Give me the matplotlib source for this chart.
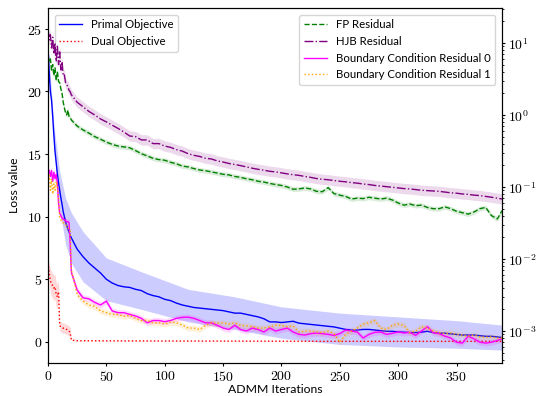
import numpy as np
import matplotlib
matplotlib.use("Agg")
import matplotlib.pyplot as plt
from matplotlib.ticker import FuncFormatter, MultipleLocator, LogLocator

plt.rcParams['mathtext.fontset'] = 'cm'
plt.rcParams['font.family'] = ['Lato', 'DejaVu Sans']

# iteration grid: every step early on, every 5 afterwards
iters = list(range(0, 21)) + list(range(25, 390, 5)) + [389]

primal = [23.5, 21.5, 20.0, 19.3, 18.0, 16.5, 15.2, 14.3, 13.4, 12.7, 12.1,
          11.5, 11.0, 10.4, 10.0, 9.6, 9.3, 9.0, 8.8, 8.5, 8.3,
          7.4, 6.8, 6.3, 5.9, 5.5, 5.0, 4.7, 4.5, 4.4, 4.35,
          4.2, 4.1, 3.85, 3.7, 3.6, 3.4, 3.3, 3.1, 2.95, 2.85,
          2.75, 2.7, 2.65, 2.6, 2.55, 2.5, 2.4, 2.3, 2.3, 2.2,
          2.1, 2.0, 1.85, 1.6, 1.6, 1.55, 1.6, 1.65, 1.5, 1.45,
          1.4, 1.35, 1.3, 1.25, 1.2, 1.1, 1.0, 0.95, 0.95, 1.0,
          1.0, 0.95, 0.9, 0.85, 0.85, 0.8, 0.78, 0.75, 0.75, 0.78,
          0.85, 0.75, 0.7, 0.7, 0.65, 0.6, 0.55, 0.55, 0.55, 0.5,
          0.45, 0.45, 0.4, 0.35]

# primal spread band (read at a few iterations)
primal_band_x = [0, 5, 10, 15, 20, 30, 50, 80, 120, 160, 200, 250, 300, 350, 389]
primal_lo = [23.2, 15.7, 10.6, 7.8, 6.3, 4.8, 3.3, 2.6, 1.6, 1.0, 0.3, -0.2, -0.4, -0.5, -0.65]
primal_hi = [23.8, 17.3, 13.6, 11.5, 10.3, 8.8, 6.7, 5.6, 4.2, 3.6, 2.8, 2.3, 2.0, 1.7, 1.35]

dual_x = list(range(0, 21)) + [25, 50, 100, 150, 200, 250, 300, 350, 389]
dual = [6.3, 5.5, 4.9, 4.6, 4.5, 4.3, 4.4, 3.8, 3.6, 4.0, 1.3,
        1.2, 1.15, 1.1, 1.1, 1.05, 1.0, 0.95, 0.9, 0.7, 0.15,
        0.1, 0.09, 0.08, 0.07, 0.06, 0.05, 0.05, 0.05, 0.05]
dual_hw = [0.3, 0.8, 0.9, 1.0, 1.0, 1.0, 1.0, 1.0, 1.0, 0.9, 0.4,
           0.4, 0.4, 0.4, 0.4, 0.4, 0.4, 0.4, 0.4, 0.4, 0.05,
           0.02, 0.02, 0.02, 0.02, 0.02, 0.02, 0.02, 0.02, 0.02]

fp = [6.5, 5.5, 6.0, 4.2, 5.0, 3.5, 4.5, 3.0, 4.0, 2.9, 2.8,
      2.3, 2.0, 1.5, 1.25, 1.07, 1.0, 1.17, 0.95, 0.92, 0.85,
      0.7, 0.62, 0.56, 0.5, 0.46, 0.42, 0.39, 0.37, 0.36, 0.35,
      0.32, 0.29, 0.27, 0.25, 0.24, 0.235, 0.22, 0.21, 0.195, 0.19,
      0.18, 0.172, 0.168, 0.162, 0.156, 0.15, 0.147, 0.14, 0.136, 0.13,
      0.126, 0.12, 0.117, 0.112, 0.108, 0.105, 0.1, 0.093, 0.094, 0.097,
      0.094, 0.087, 0.086, 0.098, 0.081, 0.077, 0.074, 0.068, 0.07, 0.069,
      0.072, 0.07, 0.068, 0.07, 0.066, 0.06, 0.056, 0.058, 0.055, 0.056,
      0.052, 0.05, 0.05, 0.053, 0.05, 0.046, 0.044, 0.042, 0.045, 0.05,
      0.052, 0.04, 0.036, 0.047]

hjb = [16, 11, 13, 8.5, 12, 7, 10, 5.5, 9, 5, 7.5,
       4.2, 5.5, 3.5, 3.6, 2.8, 2.6, 2.5, 2.2, 2.1, 1.9,
       1.5, 1.3, 1.12, 1.0, 0.88, 0.8, 0.72, 0.65, 0.58, 0.51,
       0.5, 0.45, 0.45, 0.4, 0.4, 0.37, 0.355, 0.33, 0.315, 0.29,
       0.275, 0.265, 0.25, 0.245, 0.23, 0.222, 0.212, 0.205, 0.198, 0.19,
       0.182, 0.176, 0.171, 0.165, 0.162, 0.157, 0.152, 0.148, 0.145, 0.14,
       0.136, 0.131, 0.128, 0.126, 0.123, 0.12, 0.118, 0.115, 0.113, 0.11,
       0.108, 0.105, 0.103, 0.101, 0.099, 0.097, 0.095, 0.094, 0.092, 0.09,
       0.089, 0.088, 0.087, 0.085, 0.083, 0.082, 0.08, 0.079, 0.077, 0.076,
       0.074, 0.072, 0.07, 0.068]

bc0 = [0.16, 0.17, 0.14, 0.17, 0.12, 0.16, 0.13, 0.15, 0.11, 0.06, 0.043,
       0.04, 0.037, 0.036, 0.035, 0.034, 0.033, 0.033, 0.032, 0.016, 0.0065,
       0.0037, 0.0029, 0.0028, 0.0025, 0.0023, 0.0026, 0.0019, 0.0018, 0.0018, 0.0017,
       0.00162, 0.0015, 0.0013, 0.0014, 0.0014, 0.00135, 0.0014, 0.0015, 0.00155, 0.00156,
       0.0015, 0.0014, 0.0013, 0.0013, 0.0012, 0.0011, 0.00105, 0.0012, 0.00105, 0.001,
       0.0011, 0.00105, 0.00097, 0.0011, 0.001, 0.00105, 0.0011, 0.00097, 0.0009, 0.00088,
       0.00092, 0.00094, 0.00092, 0.0009, 0.00087, 0.00092, 0.00103, 0.001, 0.00097, 0.0008,
       0.0009, 0.00096, 0.00097, 0.0009, 0.00093, 0.00097, 0.00094, 0.00096, 0.00087, 0.001,
       0.00115, 0.00095, 0.00092, 0.00085, 0.0008, 0.0007, 0.00068, 0.00085, 0.00078, 0.0007,
       0.00068, 0.0007, 0.00074, 0.00078]

bc1 = [0.12, 0.15, 0.09, 0.13, 0.08, 0.11, 0.09, 0.12, 0.1, 0.07, 0.037,
       0.035, 0.034, 0.032, 0.031, 0.03, 0.029, 0.027, 0.026, 0.024, 0.007,
       0.0032, 0.0026, 0.0023, 0.0022, 0.0019, 0.0018, 0.0017, 0.0017, 0.0016, 0.00165,
       0.0015, 0.0014, 0.0014, 0.0013, 0.0013, 0.00125, 0.00133, 0.0013, 0.00121, 0.0011,
       0.0011, 0.00105, 0.0012, 0.0013, 0.00128, 0.0013, 0.00125, 0.0013, 0.0012, 0.00118,
       0.00115, 0.0011, 0.0011, 0.00114, 0.0012, 0.0012, 0.00115, 0.00118, 0.00097, 0.001,
       0.001, 0.00097, 0.00095, 0.001, 0.00092, 0.0007, 0.0009, 0.001, 0.0011, 0.00125,
       0.0013, 0.0014, 0.0011, 0.00105, 0.0012, 0.00125, 0.0012, 0.00095, 0.001, 0.00115,
       0.0011, 0.001, 0.00095, 0.00092, 0.00094, 0.0009, 0.00088, 0.00085, 0.00088, 0.00083,
       0.00082, 0.00083, 0.0008, 0.0008]

x = np.array(iters)
fig = plt.figure(figsize=(5.36, 3.96), dpi=100)
ax = fig.add_axes([0.0896, 0.0833, 0.847, 0.8967])
ax2 = ax.twinx()

# left axis: objectives
ax.fill_between(primal_band_x, primal_lo, primal_hi, color='blue', alpha=0.2, lw=0)
ax.plot(x, primal, color='blue', lw=1.0, label='Primal Objective')
d = np.array(dual)
hw = np.array(dual_hw)
ax.fill_between(dual_x, d - hw, d + hw, color='red', alpha=0.15, lw=0)
ax.plot(dual_x, dual, color='red', ls=':', lw=1.0, label='Dual Objective')

# right axis: residuals (log), band width as a multiplicative spread
for vals, col, ls, lab, spread in [(fp, 'green', '--', 'FP Residual', 1.08),
                                   (hjb, 'purple', '-.', 'HJB Residual', 1.18),
                                   (bc0, 'magenta', '-', 'Boundary Condition Residual 0', 1.1),
                                   (bc1, 'orange', ':', 'Boundary Condition Residual 1', 1.1)]:
    v = np.array(vals)
    ax2.fill_between(x, v / spread, v * spread, color=col, alpha=0.15, lw=0)
    ax2.plot(x, v, color=col, ls=ls, lw=1.0, label=lab)
ax2.set_yscale('log')

ax.set_xlim(0, 389)
ax.set_ylim(-1.68, 26.65)
ax2.set_ylim(3.6e-4, 30.6)

tex = FuncFormatter(lambda v, p: f'${v:g}$')
ax.xaxis.set_major_locator(MultipleLocator(50))
ax.yaxis.set_major_locator(MultipleLocator(5))
ax.xaxis.set_major_formatter(tex)
ax.yaxis.set_major_formatter(tex)
ax2.yaxis.set_major_locator(LogLocator(base=10))
ax2.yaxis.set_major_formatter(FuncFormatter(lambda v, p: f'$10^{{{int(round(np.log10(v)))}}}$'))
for a in (ax, ax2):
    a.tick_params(which='major', labelsize=10, length=2.5, pad=1.5)
    a.tick_params(which='minor', length=1.5)

ax.set_xlabel('ADMM Iterations', fontsize=8.8, labelpad=1)
ax.set_ylabel('Loss value', fontsize=8.8, labelpad=5)

ax.legend(loc='upper left', fontsize=8.2, borderaxespad=0.6)
ax2.legend(loc='upper right', fontsize=8.2, borderaxespad=0.6)

fig.savefig('out.png', dpi=100)
